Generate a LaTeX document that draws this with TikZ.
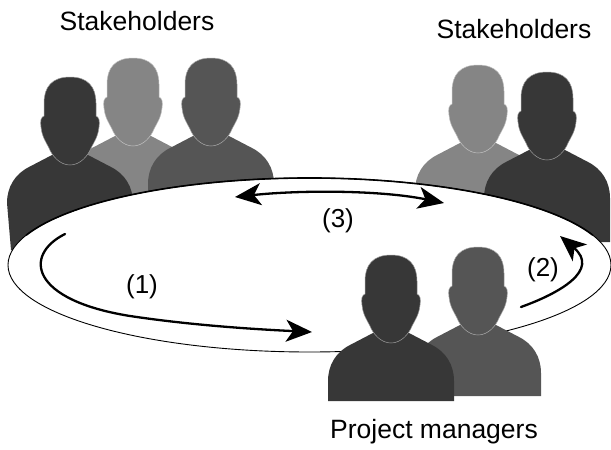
\documentclass[tikz,border=0pt]{standalone}
\usepackage{fontspec}
\setmainfont{Liberation Sans}
\usetikzlibrary{arrows.meta}
\definecolor{darkman}{HTML}{373737}
\definecolor{midman}{HTML}{555555}
\definecolor{lightman}{HTML}{858585}
\tikzset{
  flow/.style={line width=2.3pt,line cap=round},
  bigtip/.tip={Stealth[length=26pt,width=22pt,inset=7pt]},
  caption/.style={font=\fontsize{26.5}{30}\selectfont,inner sep=0pt},
  number/.style={font=\fontsize{26}{30}\selectfont,inner sep=0pt}
}
% [bottom left x]{head x}{head top y}{colour}{bottom y, from head top}
\newcommand{\person}[5][-63]{
  \begin{scope}[shift={(#2,#3)}]
    \fill[#4] (-18,78)--(-41,90) .. controls (-55,97) and (-63,110) .. (-63,126)--(#1,#5)--(63,#5)--(63,126)
      .. controls (63,110) and (55,97) .. (41,90)--(18,78)--cycle;
    \filldraw[#4,draw=#4!50!white,line width=.5pt] (0,0) .. controls (-18,0) and (-26,10) .. (-26,26)--(-26,39)
      .. controls (-29,40) and (-30,44) .. (-29,50) .. controls (-28,60) and (-24,65) .. (-21,71)
      .. controls (-18,79) and (-10,88) .. (0,88) .. controls (10,88) and (18,79) .. (21,71)
      .. controls (24,65) and (28,60) .. (29,50) .. controls (30,44) and (29,40) .. (26,39)
      --(26,26) .. controls (26,10) and (18,0) .. (0,0)--cycle;
  \end{scope}
}
\begin{document}
\begin{tikzpicture}[x=1pt,y=-1pt]
  \useasboundingbox (0,0) rectangle (611,450);
  % people behind the table
  \person{133}{58}{lightman}{200}
  \person{211}{58}{midman}{200}
  \person[-59]{70}{77}{darkman}{173}
  \person{478}{65}{lightman}{190}
  \person{547}{72}{darkman}{170}
  % table
  \coordinate (table) at (309.5,265);
  \draw[fill=white,line width=.9pt] (table) ellipse [x radius=301.5pt,y radius=87pt];
  \draw[line width=1.6pt] (table) ++(160:301.5pt and 87pt) arc [start angle=160,end angle=20,x radius=301.5pt,y radius=87pt];
  % people in front
  \person{478}{247}{midman}{149}
  \person{391}{255}{darkman}{146}
  % ends of the arrows
  \coordinate (a1) at (65,234);
  \coordinate (b1) at (312,332);
  \coordinate (a2) at (521,307);
  \coordinate (b2) at (560,236);
  \coordinate (a3) at (235,197);
  \coordinate (b3) at (444,203);
  \draw[flow,-bigtip] (a1) .. controls (23,255) and (30,300) .. (130,316) .. controls (190,325) and (250,329) .. (b1);
  \draw[flow,-bigtip] (a2) .. controls (560,293) and (600,270) .. (b2);
  \draw[flow,bigtip-bigtip] (a3) .. controls (300,190) and (380,190) .. (b3);
  % labels
  \node[caption] (stakeleft) at (137,21) {Stakeholders};
  \node[caption] (stakeright) at (514,29) {Stakeholders};
  \node[caption] (managers) at (434,432) {Project managers};
  \node[number] (one) at (142,287) {(1)};
  \node[number] (two) at (543,270) {(2)};
  \node[number] (three) at (338,221) {(3)};
\end{tikzpicture}
\end{document}
